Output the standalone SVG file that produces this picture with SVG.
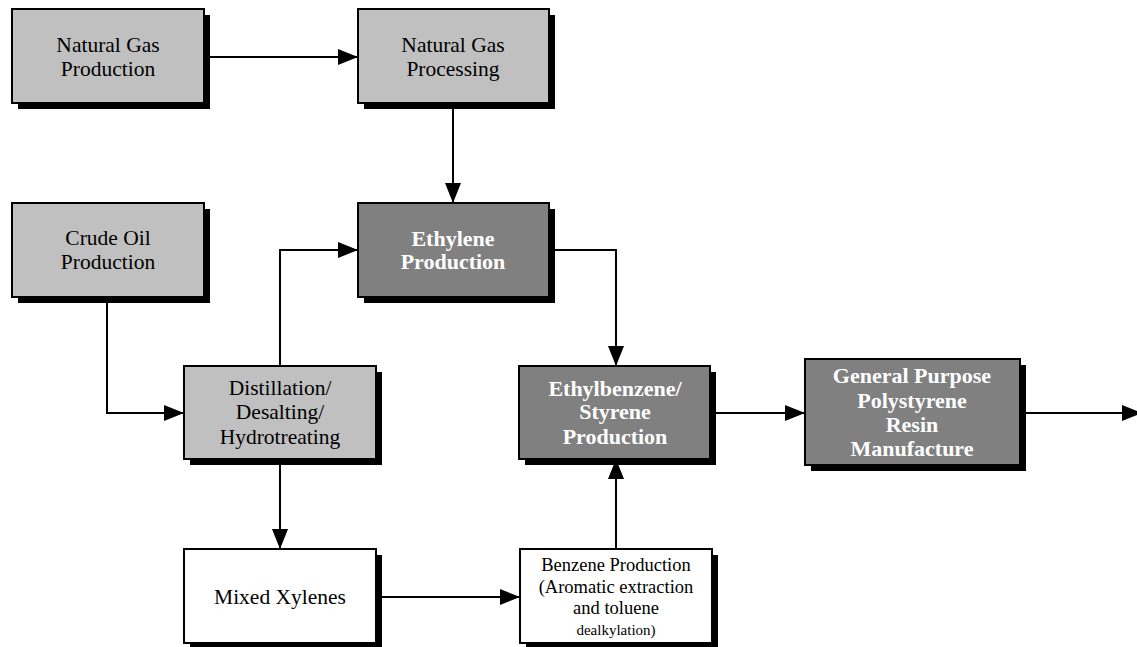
<svg xmlns="http://www.w3.org/2000/svg" width="1137" height="647" viewBox="0 0 1137 647">
<style>
.sh{fill:#000}
.lt{fill:#c0c0c0;stroke:#000;stroke-width:2}
.dk{fill:#808080;stroke:#000;stroke-width:2}
.wh{fill:#fff;stroke:#000;stroke-width:2}
text{font-family:'Liberation Serif','Times New Roman',Times,'DejaVu Serif',serif;text-anchor:middle}
.t{font-size:21.5px;fill:#000}
.tb{font-size:22px;font-weight:bold;fill:#fff}
.ts{font-size:18.5px;fill:#000}
.tx{font-size:15px}
.c{fill:none;stroke:#000;stroke-width:2;marker-end:url(#ah)}
</style>
<defs>
<marker id="ah" markerUnits="userSpaceOnUse" markerWidth="20" markerHeight="16" refX="20" refY="8" orient="auto">
<path d="M0,0 L20,8 L0,16 z" fill="#000"/>
</marker>
</defs>
<rect width="1137" height="647" fill="#fff"/>
<g id="connectors">
<path class="c" d="M204,57 H358"/>
<path class="c" d="M453,102 V203"/>
<path class="c" d="M107,297 V413 H184"/>
<path class="c" d="M280,366 V250 H358"/>
<path class="c" d="M549,250 H616 V366"/>
<path class="c" d="M280,459 V549"/>
<path class="c" d="M376,597 H520"/>
<path class="c" d="M616,549 V459"/>
<path class="c" d="M706,413 H805"/>
<path class="c" d="M1020,413 H1142"/>
</g>
<g id="ng-production">
<rect class="sh" x="18" y="15" width="192" height="94"/>
<rect class="lt" x="12" y="9" width="192" height="94"/>
<text class="t" x="108" y="52">Natural Gas</text>
<text class="t" x="108" y="76">Production</text>
</g>
<g id="ng-processing">
<rect class="sh" x="364" y="15" width="191" height="94"/>
<rect class="lt" x="358" y="9" width="191" height="94"/>
<text class="t" x="453" y="52">Natural Gas</text>
<text class="t" x="453" y="76">Processing</text>
</g>
<g id="crude-oil">
<rect class="sh" x="18" y="209" width="192" height="94"/>
<rect class="lt" x="12" y="203" width="192" height="94"/>
<text class="t" x="108" y="245">Crude Oil</text>
<text class="t" x="108" y="269">Production</text>
</g>
<g id="ethylene">
<rect class="sh" x="364" y="209" width="191" height="94"/>
<rect class="dk" x="358" y="203" width="191" height="94"/>
<text class="tb" x="453" y="246">Ethylene</text>
<text class="tb" x="453" y="269">Production</text>
</g>
<g id="distillation">
<rect class="sh" x="190" y="372" width="192" height="93"/>
<rect class="lt" x="184" y="366" width="192" height="93"/>
<text class="t" x="280" y="395">Distillation/</text>
<text class="t" x="280" y="419">Desalting/</text>
<text class="t" x="280" y="444">Hydrotreating</text>
</g>
<g id="mixed-xylenes">
<rect class="sh" x="190" y="555" width="192" height="94"/>
<rect class="wh" x="184" y="549" width="192" height="94"/>
<text class="t" x="280" y="604">Mixed Xylenes</text>
</g>
<g id="ethylbenzene">
<rect class="sh" x="525" y="372" width="191" height="93"/>
<rect class="dk" x="519" y="366" width="191" height="93"/>
<text class="tb" x="615" y="396">Ethylbenzene/</text>
<text class="tb" x="615" y="419">Styrene</text>
<text class="tb" x="615" y="444">Production</text>
</g>
<g id="benzene">
<rect class="sh" x="526" y="555" width="192" height="94"/>
<rect class="wh" x="520" y="549" width="192" height="94"/>
<text class="ts" x="616" y="571">Benzene Production</text>
<text class="ts" x="616" y="593">(Aromatic extraction</text>
<text class="ts" x="616" y="614">and toluene</text>
<text class="ts tx" x="616" y="635">dealkylation)</text>
</g>
<g id="gpps">
<rect class="sh" x="811" y="365" width="215" height="106"/>
<rect class="dk" x="805" y="359" width="215" height="106"/>
<text class="tb" x="912" y="383">General Purpose</text>
<text class="tb" x="912" y="408">Polystyrene</text>
<text class="tb" x="912" y="432">Resin</text>
<text class="tb" x="912" y="456">Manufacture</text>
</g>
</svg>
